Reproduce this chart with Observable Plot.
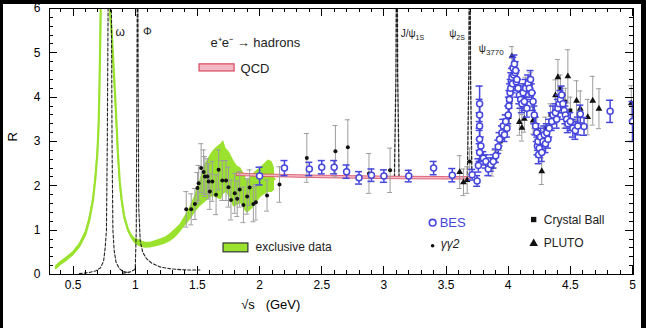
<!DOCTYPE html>
<html><head><meta charset="utf-8">
<script src="https://cdn.jsdelivr.net/npm/d3@7"></script>
<script src="https://cdn.jsdelivr.net/npm/@observablehq/plot@0.6"></script>
<style>
body{margin:0;background:#fff;}
#wrap{position:relative;width:646px;height:328px;overflow:hidden;background:#fff;}
.bk{position:absolute;background:#000;z-index:5;}
.tk{position:absolute;background:#000;z-index:4;}
svg{display:block;}
</style></head><body>
<div id="wrap"></div>
<script>
// ---------- data ----------
// exclusive data band (green)
const greenX  = [0.36,0.40,0.45,0.50,0.55,0.60,0.63,0.66,0.68,0.695,0.705,0.712,0.718,0.725,0.75,0.78,0.79,0.81,0.83,0.845,0.86,0.875,0.89,0.91,0.94,0.97,1.00,1.04,1.08,1.12,1.16,1.20,1.24,1.28,1.32,1.36,1.40,1.44,1.48,1.52,1.56,1.60,1.63,1.66,1.69,1.71,1.73,1.76,1.79,1.82,1.85,1.88,1.90,1.93,1.95,1.98,2.01,2.04,2.07,2.10,2.12];
const greenLo = [0.10,0.20,0.30,0.42,0.58,0.85,1.15,1.60,2.10,2.60,3.20,4.00,5.00,6.20,6.5,6.5,6.0,5.3,4.3,3.5,2.6,2.0,1.6,1.25,0.97,0.80,0.68,0.62,0.59,0.60,0.62,0.65,0.68,0.74,0.82,0.94,1.08,1.22,1.38,1.52,1.62,1.72,1.76,1.72,1.68,1.80,1.85,1.75,1.52,1.55,1.60,1.45,1.38,1.45,1.50,1.62,1.74,1.80,1.85,1.85,1.90];
const greenHi = [0.20,0.30,0.40,0.52,0.70,0.98,1.30,1.75,2.30,2.85,3.50,4.40,5.50,6.80,7.0,7.0,6.4,5.7,4.6,3.8,2.9,2.2,1.8,1.40,1.08,0.90,0.82,0.77,0.73,0.73,0.76,0.80,0.84,0.92,1.02,1.13,1.32,1.52,1.78,2.12,2.48,2.68,2.80,2.88,2.95,3.02,2.85,2.75,2.58,2.45,2.40,2.25,2.12,2.20,2.28,2.35,2.42,2.50,2.58,2.55,2.40];

// narrow resonances (dashed)
const omegaX = [0.55,0.62,0.68,0.72,0.745,0.758,0.768,0.775,0.782,0.797,0.808,0.813,0.82,0.83,0.845,0.87,0.90,0.95];
const omegaY = [0.02,0.04,0.08,0.15,0.30,0.60,1.0,3.0,6.3,9.0,6.3,3.0,1.0,0.55,0.28,0.14,0.07,0.04];
const phiX = [0.90,0.96,0.99,1.000,1.008,1.013,1.019,1.023,1.028,1.04,1.06,1.09,1.13,1.20,1.28,1.36,1.45,1.52];
const phiY = [0.03,0.06,0.10,0.15,1.0,4.0,9.0,4.5,1.5,0.75,0.50,0.36,0.26,0.17,0.13,0.11,0.10,0.10];
const jpsiX = [3.085,3.097,3.104,3.111,3.122];
const jpsiY = [2.2,4.5,9.0,4.5,2.2];
const psi2X = [3.672,3.683,3.690,3.697,3.708];
const psi2Y = [2.25,4.5,9.0,4.5,2.25];

// QCD band
const qcdX = [1.82,2.0,2.5,3.0,3.5,3.70];
const qcdY = [2.25,2.23,2.20,2.18,2.17,2.17];
const qcdErr = 0.028;

// BES
const besX = [2.00,2.20,2.40,2.50,2.60,2.70,2.80,2.90,3.00,3.20,3.40,3.55,
  3.71,3.75,3.76,3.77,3.77,3.77,3.77,3.77,3.78,3.80,3.82,3.84,3.86,3.88,3.90,3.92,3.93,3.95,3.96,3.97,3.98,3.99,
  4.00,4.005,4.01,4.015,4.02,4.025,4.03,4.035,4.04,4.045,4.05,4.055,4.06,4.065,4.07,4.08,4.09,4.10,4.11,4.12,4.13,4.14,4.15,4.16,4.17,4.18,4.19,
  4.20,4.21,4.22,4.23,4.235,4.24,4.245,4.25,4.26,4.27,4.28,4.29,4.30,4.31,4.32,4.33,4.35,4.36,4.38,4.39,
  4.40,4.41,4.42,4.43,4.44,4.45,4.46,4.47,4.48,4.50,4.52,4.54,4.56,4.58,4.61,4.82,5.00];
const besY = [2.22,2.40,2.38,2.42,2.42,2.32,2.18,2.24,2.22,2.22,2.40,2.24,
  2.25,2.11,2.46,2.75,3.05,3.35,3.60,3.85,2.90,2.62,2.55,2.38,2.48,2.55,2.68,2.88,3.05,3.20,3.35,3.15,3.45,3.30,
  3.60,3.80,3.95,4.10,4.20,4.35,4.45,4.30,4.65,4.50,4.75,4.55,4.60,4.35,4.40,4.20,4.05,3.95,3.85,4.10,3.90,4.20,3.75,4.30,4.20,4.40,4.10,
  3.90,3.60,3.35,3.20,2.90,3.00,2.70,2.85,3.10,2.75,3.00,3.15,2.95,3.20,3.05,3.30,3.45,3.60,3.65,3.50,
  3.75,3.85,3.95,4.05,3.85,3.70,3.60,3.50,3.40,3.45,3.30,3.25,3.35,3.62,3.34,3.68,3.45];
const besErr = [0.20,0.17,0.15,0.15,0.15,0.15,0.14,0.14,0.14,0.13,0.15,0.15,
  0.12,0.12,0.15,0.20,0.25,0.30,0.35,0.40,0.20,0.15,0.15,0.15,0.15,0.15,0.15,0.15,0.15,0.15,0.15,0.15,0.15,0.20,
  0.20,0.20,0.20,0.20,0.20,0.20,0.20,0.20,0.25,0.20,0.20,0.20,0.20,0.20,0.20,0.20,0.20,0.20,0.20,0.20,0.20,0.20,0.20,0.20,0.20,0.20,0.20,
  0.20,0.20,0.20,0.20,0.20,0.20,0.20,0.20,0.20,0.20,0.20,0.20,0.20,0.20,0.20,0.20,0.20,0.20,0.20,0.20,
  0.20,0.20,0.20,0.20,0.20,0.20,0.20,0.20,0.20,0.20,0.20,0.20,0.20,0.20,0.20,0.25,0.45];

// gamma gamma 2
const ggX = [1.41,1.45,1.48,1.50,1.51,1.53,1.55,1.56,1.58,1.59,1.60,1.62,1.65,1.67,1.70,1.73,1.75,1.77,1.80,1.82,1.84,1.87,1.90,1.92,1.95,1.97,2.06,2.16,2.38,2.61,2.71,2.88,3.05,3.69];
const ggY = [1.47,1.47,1.59,1.95,2.06,2.40,2.31,2.21,2.21,2.10,1.87,2.10,1.80,2.36,2.12,2.12,1.97,1.68,1.83,1.71,1.92,1.57,1.76,1.96,1.59,1.63,1.78,2.03,2.63,2.78,2.87,2.28,2.35,2.55];
const ggErr = [0.40,0.35,0.35,0.35,0.40,0.55,0.50,0.45,0.40,0.40,0.40,0.45,0.45,0.45,0.45,0.45,0.45,0.45,0.45,0.40,0.40,0.40,0.40,0.40,0.40,0.40,0.35,0.40,0.55,0.58,0.62,0.45,0.50,0.30];

// PLUTO
const plutoX = [3.61,3.64,3.67,4.01,4.03,4.09,4.11,4.13,4.20,4.21,4.27,4.38,4.40,4.45,4.48,4.55,4.58,4.64,4.68,4.73,4.99];
const plutoY = [2.31,2.08,2.13,3.89,4.92,3.44,3.31,3.51,3.47,3.59,2.33,4.04,4.45,3.70,4.47,3.92,3.74,3.55,3.92,3.74,3.86];
const plutoErr = [0.37,0.30,0.30,0.30,0.22,0.30,0.30,0.30,0.30,0.30,0.30,0.35,0.40,0.40,0.60,0.45,0.40,0.40,0.55,0.45,0.40];

// Crystal Ball
const cbX = [3.87,3.89,3.91,3.94,3.96,3.98,4.01,4.03,4.06,4.10,4.14,4.18,4.23,4.26,4.30,4.34,4.42,4.46,4.50];
const cbY = [2.42,2.60,2.72,3.00,3.20,3.40,3.55,4.30,4.45,4.00,4.20,4.30,3.30,3.00,3.30,3.60,4.20,3.90,3.70];
const cbErr = [0.20,0.20,0.20,0.20,0.20,0.20,0.20,0.25,0.25,0.25,0.25,0.25,0.25,0.25,0.25,0.25,0.30,0.30,0.30];

// ticks
const xMajor = [0.5,1,1.5,2,2.5,3,3.5,4,4.5,5];
const xTickLabels = ["0.5","1","1.5","2","2.5","3","3.5","4","4.5","5"];
const yMajor = [0,1,2,3,4,5,6];
const xMinor = [0.4,0.6,0.7,0.8,0.9,1.1,1.2,1.3,1.4,1.6,1.7,1.8,1.9,2.1,2.2,2.3,2.4,2.6,2.7,2.8,2.9,3.1,3.2,3.3,3.4,3.6,3.7,3.8,3.9,4.1,4.2,4.3,4.4,4.6,4.7,4.8,4.9];
const yMinor = [0.2,0.4,0.6,0.8,1.2,1.4,1.6,1.8,2.2,2.4,2.6,2.8,3.2,3.4,3.6,3.8,4.2,4.4,4.6,4.8,5.2,5.4,5.6,5.8];

// ---------- layout ----------
const W=646, H=328, mL=49, mR=13, mT=8, mB=54;
const X0=0.31, X1=5.008, Y0=0, Y1=6;
const GREEN="#9ae22e", BLUE="#4646dc", GRAY="#9d9d9d", FONT="'Liberation Sans', Arial, sans-serif";

const greenT = greenX.map((x,i)=>({x, lo: greenLo[i], hi: greenHi[i]}));
const omegaT = omegaX.map((x,i)=>({x, y: omegaY[i]}));
const phiT = phiX.map((x,i)=>({x, y: phiY[i]}));
const jpsiT = jpsiX.map((x,i)=>({x, y: jpsiY[i]}));
const psi2T = psi2X.map((x,i)=>({x, y: psi2Y[i]}));
const qcdT = qcdX.map((x,i)=>({x, lo: qcdY[i]-qcdErr, hi: qcdY[i]+qcdErr}));
const tab = (X,Y,E)=>X.map((x,i)=>({x, y: Y[i], e: E[i]}));
const besT = tab(besX,besY,besErr), ggT = tab(ggX,ggY,ggErr), plutoT = tab(plutoX,plutoY,plutoErr), cbT = tab(cbX,cbY,cbErr);

function errbars(data, color, sw, cap){
  return [
    Plot.ruleX(data, {x:"x", y1:d=>d.y-d.e, y2:d=>d.y+d.e, stroke:color, strokeWidth:sw, clip:true}),
    Plot.ruleY(data, {x1:"x", x2:"x", y:d=>d.y+d.e, insetLeft:-cap, insetRight:-cap, stroke:color, strokeWidth:sw, clip:true}),
    Plot.ruleY(data, {x1:"x", x2:"x", y:d=>d.y-d.e, insetLeft:-cap, insetRight:-cap, stroke:color, strokeWidth:sw, clip:true})
  ];
}

// annotation positions (data units)
const annT = [
  {t:"ω", x:0.841, y:5.46, s:12},
  {t:"Φ", x:1.062, y:5.48, s:11},
  {t:"e⁺e⁻ → hadrons", x:1.606, y:5.23, s:13},
  {t:"QCD", x:1.847, y:4.65, s:13},
  {t:"J/ψ1S", x:3.135, y:5.44, s:10},
  {t:"ψ2S", x:3.525, y:5.44, s:10},
  {t:"ψ3770", x:3.763, y:5.08, s:10},
  {t:"exclusive data", x:1.968, y:0.61, s:12},
  {t:"γγ2", x:3.457, y:0.68, s:12},
  {t:"Crystal Ball", x:4.286, y:1.22, s:12},
  {t:"PLUTO", x:4.286, y:0.70, s:12}
];

const chart = Plot.plot({
  width: W, height: H,
  marginLeft: mL, marginRight: mR, marginTop: mT, marginBottom: mB,
  style: {fontFamily: FONT, fontSize: "12px", background: "white", color: "black"},
  x: {domain: [X0, X1], label: null},
  y: {domain: [Y0, Y1], label: null},
  marks: [
    Plot.areaY(greenT, {x:"x", y1:"lo", y2:"hi", fill: GREEN, clip:true}),
    Plot.line(greenT, {x:"x", y:d=>(d.lo+d.hi)/2, stroke: GREEN, strokeWidth: 2.2, clip:true}),
    Plot.line(omegaT, {x:"x", y:"y", stroke:"#222", strokeWidth:1.1, strokeDasharray:"3,2", clip:true}),
    Plot.line(phiT, {x:"x", y:"y", stroke:"#222", strokeWidth:1.1, strokeDasharray:"3,2", clip:true}),
    Plot.line(jpsiT, {x:"x", y:"y", stroke:"#222", strokeWidth:1.3, strokeDasharray:"3,2", clip:true}),
    Plot.line(psi2T, {x:"x", y:"y", stroke:"#222", strokeWidth:1.3, strokeDasharray:"3,2", clip:true}),
    Plot.areaY(qcdT, {x:"x", y1:"lo", y2:"hi", fill:"#f3b9c3", stroke:"#d9485f", strokeWidth:0.8}),
    ...errbars(ggT, GRAY, 1, 2.5),
    ...errbars(plutoT, GRAY, 1, 2.5),
    ...errbars(cbT, GRAY, 1, 2.5),
    Plot.dot(ggT, {x:"x", y:"y", r:2, fill:"#111", clip:true}),
    Plot.dot(cbT, {x:"x", y:"y", r:2.2, symbol:"square", fill:"#111", clip:true}),
    Plot.dot(plutoT, {x:"x", y:"y", r:2.5, symbol:"triangle", fill:"#111", clip:true}),
    ...errbars(besT, BLUE, 1.5, 3.5),
    Plot.dot(besT, {x:"x", y:"y", r:3, stroke:BLUE, fill:"white", strokeWidth:1.5, clip:true}),
    // legend swatches
    Plot.rect([{x1:1.517, x2:1.799, y1:4.58, y2:4.74}], {x1:"x1", x2:"x2", y1:"y1", y2:"y2", fill:"#f3b9c3", stroke:"#d9485f", strokeWidth:1.2}),
    Plot.rect([{x1:1.71, x2:1.91, y1:0.50, y2:0.70}], {x1:"x1", x2:"x2", y1:"y1", y2:"y2", fill:GREEN, stroke:"#333", strokeWidth:1.2}),
    Plot.dot([{x:3.392, y:1.17}], {x:"x", y:"y", r:3.3, stroke:BLUE, fill:"white", strokeWidth:1.6}),
    Plot.dot([{x:3.392, y:0.65}], {x:"x", y:"y", r:1.8, fill:"#111"}),
    Plot.dot([{x:4.205, y:1.24}], {x:"x", y:"y", r:3, symbol:"square", fill:"#111"}),
    Plot.dot([{x:4.205, y:0.70}], {x:"x", y:"y", r:3.2, symbol:"triangle", fill:"#111"}),
    Plot.text(annT, {x:"x", y:"y", text:"t", fontSize:d=>d.s, textAnchor:"start", fill:"#222"}),
    Plot.text([{t:"BES", x:3.449, y:1.17}], {x:"x", y:"y", text:"t", fontSize:13, textAnchor:"start", fill:BLUE}),
    Plot.frame({stroke:"black", strokeWidth:1}),
    Plot.axisX(xMajor, {tickSize:0, tickPadding:6, tickFormat:(d,i)=>xTickLabels[i], fontSize:12}),
    Plot.axisY(yMajor, {tickSize:0, tickPadding:9, fontSize:12}),
    Plot.text(["R"], {text:d=>d, frameAnchor:"left", dx:-37, rotate:-90, fontSize:13}),
    Plot.text(["√s   (GeV)"], {text:d=>d, x:2.09, frameAnchor:"bottom", dy:34, fontSize:13})
  ]
});

// subscripts
d3.select(chart).selectAll("text").each(function(){
  const t = this.textContent;
  if (t === "J/ψ1S") this.innerHTML = 'J/ψ<tspan dy="3" font-size="7">1S</tspan>';
  if (t === "ψ2S") this.innerHTML = 'ψ<tspan dy="3" font-size="7">2S</tspan>';
  if (t === "ψ3770") this.innerHTML = 'ψ<tspan dy="3" font-size="8">3770</tspan>';
  if (t === "γγ2") this.setAttribute("font-style","italic");
});

const wrapEl = document.getElementById("wrap");
wrapEl.appendChild(chart);

// inward ticks on all four sides
(function(){
  let sxs = null, sys = null;
  try { sxs = chart.scale("x"); sys = chart.scale("y"); } catch(e) {}
  const fx = v => { const r = (sxs && sxs.apply) ? +sxs.apply(v) : NaN; return isFinite(r) ? r : mL + (v-X0)/(X1-X0)*(W-mL-mR); };
  const fy = v => { const r = (sys && sys.apply) ? +sys.apply(v) : NaN; return isFinite(r) ? r : (H-mB) - (v-Y0)/(Y1-Y0)*(H-mT-mB); };
  const tB = Math.round(fy(Y0)), tT = Math.round(fy(Y1));
  const tL = Math.round(fx(X0)), tR = Math.round(fx(X1));
  function addDiv(cls,l,t,w,h){
    const d=document.createElement("div"); d.className=cls;
    d.style.left=l+"px"; d.style.top=t+"px"; d.style.width=w+"px"; d.style.height=h+"px";
    wrapEl.appendChild(d);
  }
  [[xMajor,8],[xMinor,4]].forEach(([vals,len])=>vals.forEach(v=>{
    const px = Math.round(fx(v));
    addDiv("tk", px, tB-len, 1, len);
    addDiv("tk", px, tT, 1, len);
  }));
  [[yMajor,8],[yMinor,4]].forEach(([vals,len])=>vals.forEach(v=>{
    const py = Math.round(fy(v));
    addDiv("tk", tL, py, len, 1);
    addDiv("tk", tR-len, py, len, 1);
  }));
  [[0,0,646,4],[0,0,3,328],[641,0,5,328]].forEach(([l,t,w,h])=>addDiv("bk",l,t,w,h));
})();
</script>
</body></html>
